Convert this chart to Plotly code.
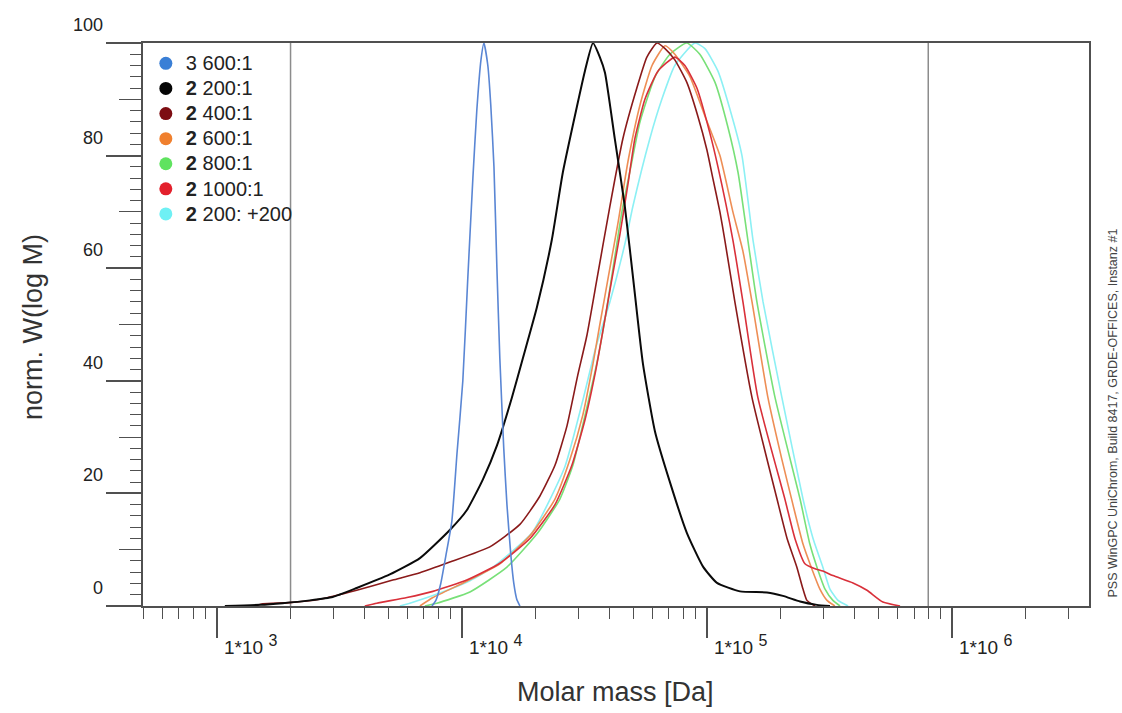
import numpy as np
import plotly.graph_objects as go

# ---------------- data (log10 of molar mass [Da], normalised W(log M)) ----------------
logM_3_600 = [3.878, 3.894, 3.914, 3.935, 3.959, 3.980, 4.004, 4.024, 4.045, 4.061, 4.078, 4.090,
              4.106, 4.118, 4.131, 4.143, 4.155, 4.171, 4.184, 4.200, 4.212, 4.224, 4.237]
w_3_600 = [0, 1, 4, 9, 15, 27, 40, 58, 76, 88, 97, 100,
           96, 89, 78, 60, 44, 28, 18, 9, 4, 1.2, 0]

logM_2_200 = [3.033, 3.176, 3.269, 3.380, 3.473, 3.571, 3.706, 3.829, 3.951, 4.020, 4.086, 4.143,
              4.204, 4.249, 4.306, 4.367, 4.412, 4.469, 4.502, 4.535, 4.563, 4.584, 4.624, 4.665,
              4.702, 4.739, 4.788, 4.849, 4.918, 4.984, 5.041, 5.135, 5.245, 5.310, 5.380, 5.449, 5.502]
w_2_200 = [0, 0.2, 0.5, 1, 1.6, 3.2, 5.6, 8.5, 13.5, 17, 22.5, 28.5,
           37, 44, 53, 65, 77, 88.6, 95, 100, 97.5, 94.7, 83, 71,
           57, 43, 31, 22, 13, 7, 4.1, 2.6, 2.4, 1.8, 0.8, 0.2, 0]

logM_2_400 = [3.155, 3.188, 3.298, 3.420, 3.571, 3.718, 3.829, 3.951, 4.114, 4.237, 4.318, 4.380,
              4.429, 4.473, 4.510, 4.551, 4.604, 4.657, 4.714, 4.755, 4.796, 4.829, 4.869, 4.918,
              4.963, 5.000, 5.024, 5.053, 5.073, 5.114, 5.184, 5.286, 5.327, 5.367, 5.392, 5.408, 5.441]
w_2_400 = [0, 0.4, 0.6, 1.2, 2.8, 4.6, 5.9, 7.8, 10.5, 14.5, 19.5, 25,
           32, 41, 48, 58, 71, 83, 92, 97.5, 100, 99, 97, 93,
           87, 81, 76, 70, 65, 54, 37, 19, 12, 6.9, 3, 1, 0]

logM_2_600 = [3.829, 3.882, 4.020, 4.155, 4.278, 4.380, 4.441, 4.494, 4.535, 4.563, 4.604, 4.637,
              4.678, 4.727, 4.776, 4.829, 4.869, 4.931, 4.992, 5.053, 5.106, 5.147, 5.184, 5.249,
              5.306, 5.351, 5.392, 5.429, 5.461, 5.490, 5.522]
w_2_600 = [0, 1.5, 4.4, 7.5, 12.5, 19, 26, 34, 43, 50, 60, 68,
           79, 89, 96, 99.5, 98, 94, 87, 80, 70, 63, 54, 37,
           26, 18, 11, 6.5, 3, 1, 0]

logM_2_800 = [3.849, 3.898, 4.033, 4.184, 4.310, 4.400, 4.453, 4.514, 4.555, 4.588, 4.624, 4.653,
              4.694, 4.727, 4.788, 4.849, 4.918, 4.971, 5.033, 5.086, 5.127, 5.167, 5.204, 5.278,
              5.380, 5.420, 5.449, 5.482, 5.514, 5.543]
w_2_800 = [0, 0.5, 2.5, 6.9, 13, 19, 25, 36, 44, 52, 62, 70,
           79, 86, 94, 98, 100, 98, 93, 85, 77, 65, 54, 37,
           19, 11, 6.9, 3, 1, 0]

logM_2_1000 = [3.604, 3.653, 3.776, 3.882, 4.020, 4.155, 4.278, 4.380, 4.449, 4.502, 4.547, 4.576,
               4.612, 4.645, 4.678, 4.706, 4.747, 4.800, 4.869, 4.910, 4.959, 5.012, 5.045, 5.106,
               5.147, 5.208, 5.318, 5.359, 5.400, 5.441, 5.473, 5.514, 5.596, 5.653, 5.718, 5.788]
w_2_1000 = [0, 0.5, 1.5, 2.6, 4.6, 7.6, 12, 18, 25, 33, 42, 49,
            58, 66, 75, 83, 90, 95, 97.5, 96, 92, 84, 78, 65,
            54, 37, 19, 12, 7.5, 6.6, 6.2, 5.4, 4.1, 2.8, 0.7, 0]

logM_2_200p = [3.747, 3.788, 3.910, 4.033, 4.127, 4.286, 4.420, 4.494, 4.547, 4.604, 4.669, 4.698,
               4.767, 4.816, 4.869, 4.951, 4.992, 5.045, 5.102, 5.143, 5.188, 5.229, 5.306, 5.392,
               5.433, 5.473, 5.502, 5.535, 5.576]
w_2_200p = [0, 0.5, 2.3, 4.5, 6.9, 13, 24.7, 36.6, 46, 54, 65, 71,
            83, 90, 96, 100, 99, 95, 87, 80, 65, 54, 37, 19,
            12, 6.9, 3, 1, 0]

legend_labels = ["3 600:1", "<b>2</b> 200:1", "<b>2</b> 400:1", "<b>2</b> 600:1",
                 "<b>2</b> 800:1", "<b>2</b> 1000:1", "<b>2</b> 200: +200"]
marker_colors = ["#3a7fd6", "#050505", "#7d0d12", "#f0802e", "#5fe35f", "#e3202c", "#6ff0f4"]
line_colors = ["#5a86d4", "#0a0a0a", "#8a1a1a", "#ee8e55", "#78e078", "#d9303a", "#8cf0f4"]

limit_masses = [2000, 8e5]

x_major_ticks = [1e3, 1e4, 1e5, 1e6]
y_major_ticks = [0, 20, 40, 60, 80, 100]

FONT = "Liberation Sans, Arial, sans-serif"
AX = "#505050"

series = [
    (logM_3_600, w_3_600),
    (logM_2_200, w_2_200),
    (logM_2_400, w_2_400),
    (logM_2_600, w_2_600),
    (logM_2_800, w_2_800),
    (logM_2_1000, w_2_1000),
    (logM_2_200p, w_2_200p),
]

fig = go.Figure()

# limit lines
for m in limit_masses:
    fig.add_trace(go.Scatter(x=[m, m], y=[0, 100], mode="lines",
                             line=dict(color="#8c8c8c", width=1.5),
                             showlegend=False, hoverinfo="skip"))

# draw order: cyan, green, orange, red, dark red, black, blue
draw_order = [6, 4, 3, 5, 2, 1, 0]
for i in draw_order:
    lm, w = series[i]
    fig.add_trace(go.Scatter(
        x=10 ** np.array(lm), y=w, mode="lines",
        line=dict(color=line_colors[i], width=2 if i == 1 else 1.6, shape="spline", smoothing=0.5),
        showlegend=False, hoverinfo="skip"))

# legend entries (marker dots)
for i, lab in enumerate(legend_labels):
    fig.add_trace(go.Scatter(x=[None], y=[None], mode="markers",
                             name=f"<span style='font-size:20px'>{lab}</span>",
                             marker=dict(size=13, color=marker_colors[i])))

# helper trace for the medium y ticks axis
fig.add_trace(go.Scatter(x=[None], y=[None], yaxis="y2", showlegend=False, hoverinfo="skip"))

minor_x = [500, 600, 700, 800, 900] + [k * 10 ** d for d in (3, 4, 5) for k in range(2, 10)] + [2e6, 3e6]

fig.update_layout(
    width=1122, height=713, autosize=False,
    margin=dict(l=143, r=33, t=43, b=107),
    paper_bgcolor="white", plot_bgcolor="white",
    font=dict(family=FONT, color="#222222"),
    showlegend=True,
    legend=dict(x=0.003, y=0.995, xanchor="left", yanchor="top",
                bgcolor="rgba(255,255,255,0)", font=dict(size=17, family=FONT, color="#222"),
                itemsizing="trace", tracegroupgap=0),
    xaxis=dict(type="log", range=[np.log10(500), 6.559],
               tickvals=x_major_ticks, ticks="outside", ticklen=30, tickwidth=1.5, tickcolor=AX,
               showticklabels=False, showline=True, linecolor=AX, linewidth=2, mirror=True,
               showgrid=False, zeroline=False,
               minor=dict(tickvals=minor_x, ticks="outside", ticklen=11, tickwidth=1.3, tickcolor=AX,
                          showgrid=False)),
    yaxis=dict(range=[0, 100], tickvals=y_major_ticks, ticks="outside", ticklen=35, tickwidth=1.5,
               tickcolor=AX, showticklabels=False, showline=True, linecolor=AX, linewidth=2,
               mirror=True, showgrid=False, zeroline=False,
               minor=dict(tickvals=list(range(0, 101, 2)), ticks="outside", ticklen=11,
                          tickwidth=1.3, tickcolor=AX, showgrid=False)),
    yaxis2=dict(overlaying="y", side="left", range=[0, 100], tickvals=[10, 30, 50, 70, 90],
                ticks="outside", ticklen=23, tickwidth=1.3, tickcolor=AX, showticklabels=False,
                showline=False, showgrid=False, zeroline=False),
)

ann = []
for v in y_major_ticks:
    ann.append(dict(xref="paper", x=0, xshift=-38, xanchor="right", yref="y", y=v, yshift=18,
                    yanchor="middle", text=str(v), showarrow=False,
                    font=dict(size=18, family=FONT, color="#222")))
for t in x_major_ticks:
    d = int(round(np.log10(t)))
    ann.append(dict(xref="x", x=np.log10(t), xshift=5, xanchor="left", yref="paper", y=0,
                    yshift=-24, yanchor="top",
                    text=f"1*10 <sup><span style='font-size:16px'>{d}</span></sup>",
                    showarrow=False, font=dict(size=19, family=FONT, color="#222")))
ann.append(dict(xref="paper", x=0.499, yref="paper", y=-0.153, xanchor="center", yanchor="middle",
                text="Molar mass [Da]", showarrow=False, font=dict(size=27, family=FONT, color="#333")))
ann.append(dict(xref="paper", x=-0.117, yref="paper", y=0.496, xanchor="center", yanchor="middle",
                text="norm. W(log M)", textangle=-90, showarrow=False,
                font=dict(size=27, family=FONT, color="#333")))
ann.append(dict(xref="paper", x=1.0254, yref="paper", y=0.342, xanchor="center", yanchor="middle",
                text="PSS WinGPC UniChrom, Build 8417, GRDE-OFFICES, Instanz #1", textangle=-90,
                showarrow=False, font=dict(size=12.5, family=FONT, color="#444")))
fig.update_layout(annotations=ann)

fig.write_html("out.html")
